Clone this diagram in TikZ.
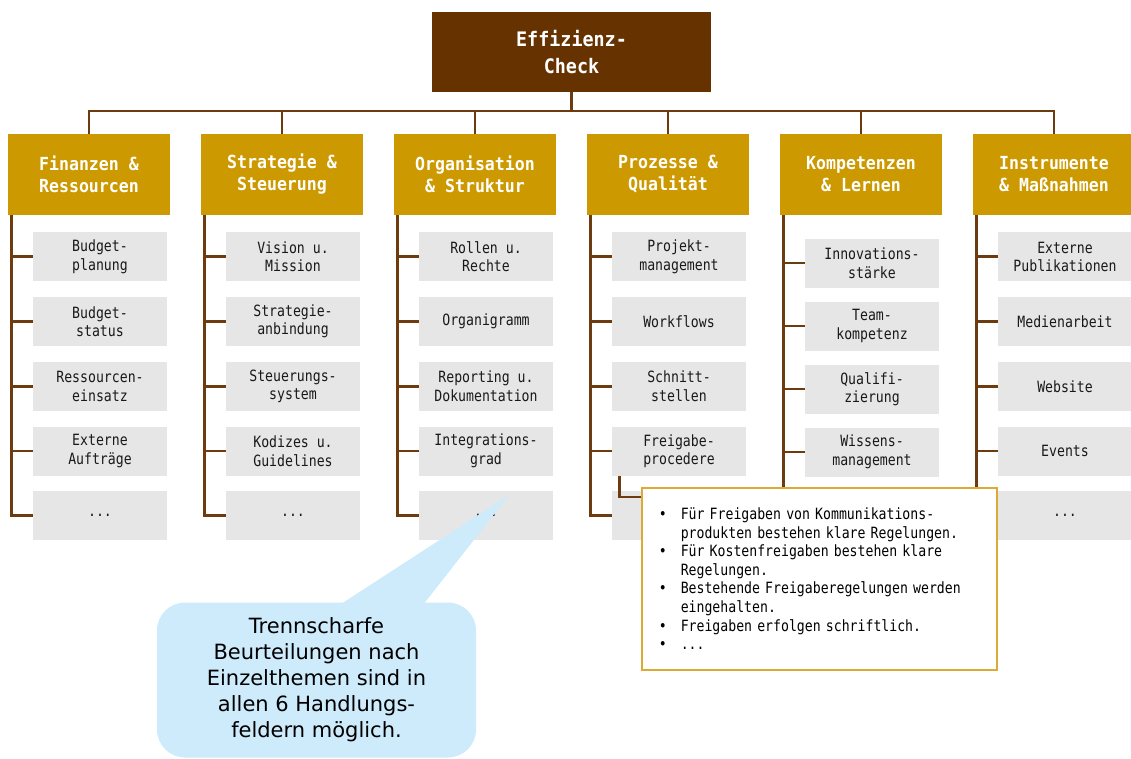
\documentclass[tikz,border=0pt]{standalone}
\usepackage{fontspec}
\setmainfont{DejaVu Sans}
\newfontfamily\kastenschrift[FakeStretch=0.85]{DejaVu Sans Mono}
\newfontfamily\titelschrift[FakeStretch=0.92]{DejaVu Sans Mono}

\definecolor{dunkelbraun}{HTML}{663300}
\definecolor{linienbraun}{HTML}{6E3B0E}
\definecolor{ocker}{HTML}{CC9900}
\definecolor{hellgrau}{HTML}{E6E6E6}
\definecolor{rahmengelb}{HTML}{DCAA35}
\definecolor{hellblau}{HTML}{CDEBFB}

\newcommand{\punkte}{...}
\newcommand{\aufz}{\makebox[22pt][l]{\textbullet}}
\newcommand{\einr}{\hspace*{22pt}}

\tikzset{
    kopf/.style={fill=dunkelbraun, text=white, minimum width=279pt, minimum height=80pt, align=center, font=\titelschrift\bfseries\fontsize{20}{27}\selectfont},
    bereich/.style={fill=ocker, text=white, minimum width=162pt, minimum height=81pt, align=center, font=\titelschrift\bfseries\fontsize{18}{22}\selectfont},
    punkt/.style={fill=hellgrau, text=black!90, minimum width=134pt, minimum height=49pt, inner sep=0pt, align=center, font=\kastenschrift\fontsize{15.5}{18.5}\selectfont},
    linie/.style={draw=linienbraun, line width=2.8pt},
    hinweis/.style={fill=white, draw=rahmengelb, line width=1.5pt, minimum height=182pt, text width=321pt, inner xsep=17pt, align=left, font=\kastenschrift\fontsize{15.5}{18.6}\selectfont},
    blase/.style={fill=hellblau, rounded corners=28pt, minimum width=319pt, minimum height=155pt, align=center, font=\fontsize{21}{26}\selectfont}
}

\begin{document}
\begin{tikzpicture}[x=1pt, y=-1pt]

        \useasboundingbox (0,0) rectangle (1131,758);

        % Kopf
        \node [kopf] (check) at (571.5,52) {Effizienz-\\Check};
        \coordinate (bus) at (571.5,111);
        \draw [linie] (check.south) -- (bus);

        % Handlungsfelder
        \foreach \s/\titel in {1/{Finanzen \&\\Ressourcen}, 2/{Strategie \&\\Steuerung}, 3/{Organisation\\\& Struktur}, 4/{Prozesse \&\\Qualität}, 5/{Kompetenzen\\\& Lernen}, 6/{Instrumente\\\& Maßnahmen}}
        {
            \node [bereich] (feld-\s) at ({193*\s-104},174.5) {\titel};
            \draw [linie] (feld-\s.north) |- (bus);
            \coordinate (stamm-\s) at ([xshift=4pt]feld-\s.south west);
        }

        % Einzelthemen
        \foreach \s/\z/\inhalt in {1/1/{Budget-\\planung}, 1/2/{Budget-\\status}, 1/3/{Ressourcen-\\einsatz}, 1/4/{Externe\\Aufträge}, 1/5/{\punkte},
                                   2/1/{Vision u.\\Mission}, 2/2/{Strategie-\\anbindung}, 2/3/{Steuerungs-\\system}, 2/4/{Kodizes u.\\Guidelines}, 2/5/{\punkte},
                                   3/1/{Rollen u.\\Rechte}, 3/2/{Organigramm}, 3/3/{Reporting u.\\Dokumentation}, 3/4/{Integrations-\\grad}, 3/5/{\punkte},
                                   4/1/{Projekt-\\management}, 4/2/{Workflows}, 4/3/{Schnitt-\\stellen}, 4/4/{Freigabe-\\procedere}, 4/5/{},
                                   6/1/{Externe\\Publikationen}, 6/2/{Medienarbeit}, 6/3/{Website}, 6/4/{Events}, 6/5/{\punkte}}
            \node [punkt] (punkt-\s-\z) at ({193*\s-93},{64.75*\z+192}) {\inhalt};
        \foreach \z/\inhalt in {1/{Innovations-\\stärke}, 2/{Team-\\kompetenz}, 3/{Qualifi-\\zierung}, 4/{Wissens-\\management}}
            \node [punkt] (punkt-5-\z) at (872,{63*\z+200}) {\inhalt};
        \coordinate (ende-5) at (806,516);

        % Staemme und Striche
        \foreach \s in {1,2,3,4,6}
        {
            \draw [linie] (stamm-\s) |- (punkt-\s-5.west);
            \foreach \z in {1,...,4}
                \draw [linie] (punkt-\s-\z.west) -- (punkt-\s-\z.west -| stamm-\s);
        }
        \draw [linie] (stamm-5) |- (ende-5);
        \foreach \z in {1,...,4}
            \draw [linie] (punkt-5-\z.west) -- (punkt-5-\z.west -| stamm-5);

        % Detailkasten Freigabeprocedere
        \node [hinweis, anchor=north west] (hinweis) at (641,487) {%
            \aufz Für Freigaben von Kommunikations-\\
            \einr produkten bestehen klare Regelungen.\\
            \aufz Für Kostenfreigaben bestehen klare\\
            \einr Regelungen.\\
            \aufz Bestehende Freigaberegelungen werden\\
            \einr eingehalten.\\
            \aufz Freigaben erfolgen schriftlich.\\
            \aufz \punkte};
        \draw [linie] ([xshift=8pt]punkt-4-4.south west) |- ([yshift=-10pt]hinweis.north west);

        % Sprechblase
        \node [blase] (blase) at (316.5,680) {Trennscharfe\\Beurteilungen nach\\Einzelthemen sind in\\allen 6 Handlungs-\\feldern möglich.};
        \coordinate (spitze) at (509,495);
        \fill [hellblau] ([xshift=24pt,yshift=-2pt]blase.north) -- (spitze) -- ([xshift=107pt,yshift=-2pt]blase.north) -- cycle;

\end{tikzpicture}
\end{document}
